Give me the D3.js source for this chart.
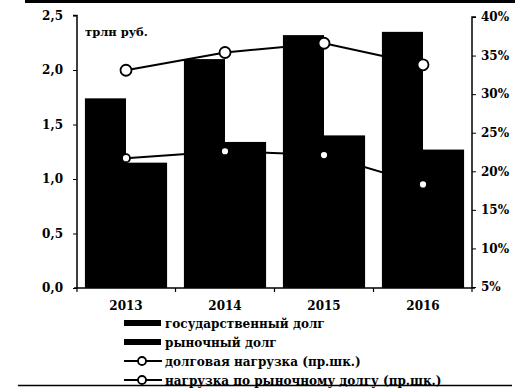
<!DOCTYPE html>
<html>
<head>
<meta charset="utf-8">
<script src="https://cdn.jsdelivr.net/npm/d3@7/dist/d3.min.js"></script>
<style>
  html, body { margin: 0; padding: 0; background: #fff; }
  svg { display: block; }
  text { font-family: "DejaVu Serif", "Liberation Serif", serif; font-weight: bold; fill: #000; }
</style>
</head>
<body>
<svg id="chart" width="524" height="389"></svg>
<script>
// Debt figures, trillion roubles, and debt load shares, percent
const years = ["2013", "2014", "2015", "2016"];
const stateDebt = [1.74, 2.10, 2.32, 2.35];
const marketDebt = [1.15, 1.34, 1.40, 1.27];
const debtLoad = [33.1, 35.4, 36.6, 33.8];
const marketDebtLoad = [21.7, 22.6, 22.1, 18.3];
const leftTicks = [0, 0.5, 1, 1.5, 2, 2.5];
const rightTicks = [5, 10, 15, 20, 25, 30, 35, 40];
const legendLabels = [
  "государственный долг",
  "рыночный долг",
  "долговая нагрузка (пр.шк.)",
  "нагрузка по рыночному долгу (пр.шк.)"
];

const svg = d3.select("#chart");
const plotLeft = 77, plotRight = 472, plotTop = 15.5, plotBottom = 288;

const x = d3.scaleBand().domain(years).range([plotLeft, plotRight]).paddingInner(0.17).paddingOuter(0.08);
const sub = d3.scaleBand().domain([0, 1]).range([0, x.bandwidth()]);
const yL = d3.scaleLinear().domain([0, 2.5]).range([plotBottom, plotTop]);
const yR = d3.scaleLinear().domain([5, 40]).range([287, 17]);

const fmtL = d => d3.format(".1f")(d).replace(".", ",");
const fmtR = d => d + "%";

// frame lines above and below the figure
svg.append("line").attr("x1", 25).attr("x2", 515).attr("y1", 1.5).attr("y2", 1.5)
  .attr("stroke", "#000").attr("stroke-width", 3);
svg.append("line").attr("x1", 18).attr("x2", 512).attr("y1", 385.5).attr("y2", 385.5)
  .attr("stroke", "#000").attr("stroke-width", 1.5);

// bars
const groups = svg.append("g").selectAll("g").data(years).join("g")
  .attr("transform", d => `translate(${x(d)},0)`);
groups.append("rect")
  .attr("x", sub(0)).attr("width", sub.bandwidth())
  .attr("y", (d, i) => yL(stateDebt[i])).attr("height", (d, i) => yL(0) - yL(stateDebt[i]))
  .attr("fill", "#000");
groups.append("rect")
  .attr("x", sub(1)).attr("width", sub.bandwidth())
  .attr("y", (d, i) => yL(marketDebt[i])).attr("height", (d, i) => yL(0) - yL(marketDebt[i]))
  .attr("fill", "#000");

// left axis
const axL = svg.append("g").attr("transform", `translate(${plotLeft},0)`)
  .call(d3.axisLeft(yL).tickValues(leftTicks).tickFormat(fmtL).tickSize(4).tickPadding(10));
axL.select(".domain").attr("stroke-width", 1.5).attr("d", `M-4,${plotTop}H0V${plotBottom}`);
axL.selectAll("text").style("font-size", "12px").attr("font-family", "DejaVu Serif");

// right axis
const axR = svg.append("g").attr("transform", `translate(${plotRight},0)`)
  .call(d3.axisRight(yR).tickValues(rightTicks).tickFormat(fmtR).tickSize(4).tickPadding(5));
axR.select(".domain").attr("stroke-width", 1.5).attr("d", `M4,${yR(40)}H0V${plotBottom}`);
axR.selectAll("text").style("font-size", "12px").attr("font-family", "DejaVu Serif");

// bottom axis with ticks between groups
const step = x.step();
const bounds = [plotLeft].concat(years.slice(1).map(d => x(d) - step * x.paddingInner() / 2)).concat([plotRight]);
svg.append("line").attr("x1", plotLeft - 3).attr("x2", plotRight + 3).attr("y1", plotBottom).attr("y2", plotBottom)
  .attr("stroke", "#000").attr("stroke-width", 1.5);
svg.append("g").selectAll("line").data(bounds).join("line")
  .attr("x1", d => d).attr("x2", d => d).attr("y1", plotBottom).attr("y2", plotBottom + 4)
  .attr("stroke", "#000").attr("stroke-width", 1.2);
svg.append("g").selectAll("text").data(years).join("text")
  .attr("x", d => x(d) + x.bandwidth() / 2).attr("y", 310)
  .attr("text-anchor", "middle").style("font-size", "12px").text(d => d);

// unit label
svg.append("text").attr("x", 85).attr("y", 36).style("font-size", "11.5px").text("трлн руб.");

// lines
const cx = d => x(d) + x.bandwidth() / 2;
function drawLine(values, r) {
  const line = d3.line().x((d, i) => cx(years[i])).y(d => yR(d));
  svg.append("path").datum(values).attr("d", line)
    .attr("fill", "none").attr("stroke", "#000").attr("stroke-width", 2);
  svg.append("g").selectAll("circle").data(values).join("circle")
    .attr("cx", (d, i) => cx(years[i])).attr("cy", d => yR(d)).attr("r", r)
    .attr("fill", "#fff").attr("stroke", "#000").attr("stroke-width", 1.8);
}
drawLine(debtLoad, 5.5);
drawLine(marketDebtLoad, 4);

// legend
const legY = [323, 342, 361, 380];
const leg = svg.append("g").selectAll("g").data(legendLabels).join("g")
  .attr("transform", (d, i) => `translate(0,${legY[i]})`);
leg.filter((d, i) => i < 2).append("rect")
  .attr("x", 124).attr("y", -3).attr("width", 37).attr("height", 6).attr("fill", "#000");
leg.filter((d, i) => i >= 2).append("line")
  .attr("x1", 124).attr("x2", 162).attr("y1", 0).attr("y2", 0)
  .attr("stroke", "#000").attr("stroke-width", 2);
leg.filter((d, i) => i >= 2).append("circle")
  .attr("cx", 142).attr("cy", 0).attr("r", 4)
  .attr("fill", "#fff").attr("stroke", "#000").attr("stroke-width", 1.8);
leg.append("text").attr("x", 165).attr("y", 4.5).style("font-size", "12px").text(d => d);
</script>
</body>
</html>
